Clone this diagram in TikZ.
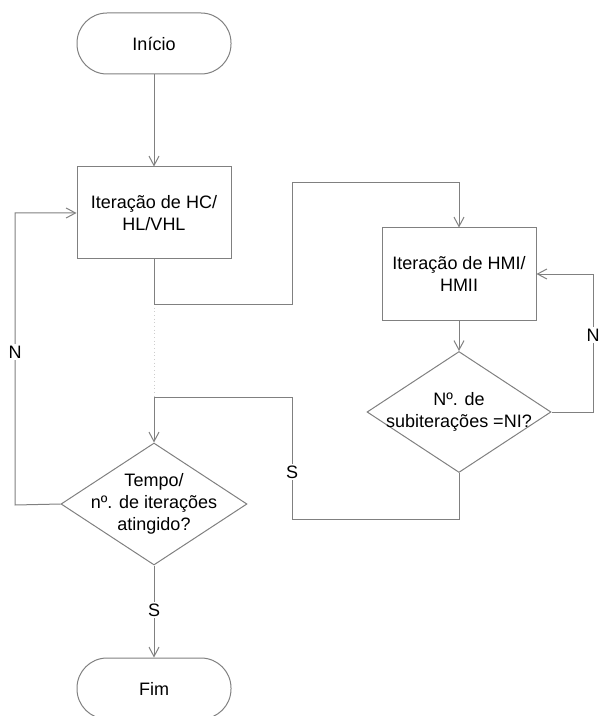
\documentclass[tikz,border=0pt]{standalone}
\usepackage{fontspec}
\setmainfont{Liberation Sans}
\usetikzlibrary{arrows.meta,shapes.geometric}
\definecolor{linegray}{RGB}{128,128,128}
\definecolor{dotgray}{RGB}{205,205,205}
\begin{document}
\begin{tikzpicture}[x=0.75pt,y=-0.75pt,
  font=\fontsize{13.5}{16.5}\selectfont,
  terminal/.style={draw=linegray, line width=0.75pt, rectangle, rounded corners=22.5pt,
    minimum width=115.5pt, minimum height=45.75pt, inner sep=0pt},
  process/.style={draw=linegray, line width=0.75pt, rectangle,
    minimum width=115.5pt, minimum height=69pt, align=center},
  decision/.style={draw=linegray, line width=0.75pt, diamond, inner sep=0pt},
  link/.style={draw=linegray, line width=0.75pt, -{Straight Barb[length=7pt,width=7.5pt]}},
  tag/.style={fill=white, inner sep=1.5pt}
]
\useasboundingbox (0,0) rectangle (600,716);

% blocks
\node[terminal] (inicio) at (154,43.5) {Início};
\node[process] (hc) at (154,213) {Iteração de HC/\\HL/VHL};
\node[process] (hmi) at (459,274) {Iteração de HMI/\\HMII};
\node[decision, minimum width=138pt, minimum height=90.75pt] (sub) at (459,412) {};
\node[align=center] (subtxt) at (sub) {Nº. de\\subiterações =NI?};
\node[decision, minimum width=139.5pt, minimum height=91.5pt] (tempo) at (154,504) {};
\node[align=center] (tempotxt) at (tempo) {Tempo/\\nº. de iterações\\atingido?};
\node[terminal] (fim) at (154,688.5) {Fim};

% bends of the connectors
\coordinate (hcdown) at (154,304);
\coordinate (jumpL) at (292,304);
\coordinate (jumpT) at (292,183);
\coordinate (nR) at (593,412);
\coordinate (sB) at (292,519);
\coordinate (sT) at (292,397);
\coordinate (nL) at (15,505);

% connectors
\draw[dotted, dotgray, line width=0.75pt] (hcdown) -- (hcdown |- sT);
\draw[link] (inicio) -- (hc);
\draw[link] (hc.south) -- (hcdown) -- (jumpL) -- (jumpT) -| (hmi.north);
\draw[link] (hmi) -- (sub);
\draw[link] (sub.east) -- (nR) |- (hmi.east);
\draw[link] (sub.south) |- (sB) -- (sT) -| (tempo.north);
\draw[link] (tempo.west) -- (nL) |- (hc.west);
\draw[link] (tempo) -- (fim);

% branch labels
\node[tag] (labNR) at (593,335) {N};
\node[tag] (labS1) at (292,472) {S};
\node[tag] (labNL) at (15,352) {N};
\node[tag] (labS2) at (154,610) {S};
\end{tikzpicture}
\end{document}
